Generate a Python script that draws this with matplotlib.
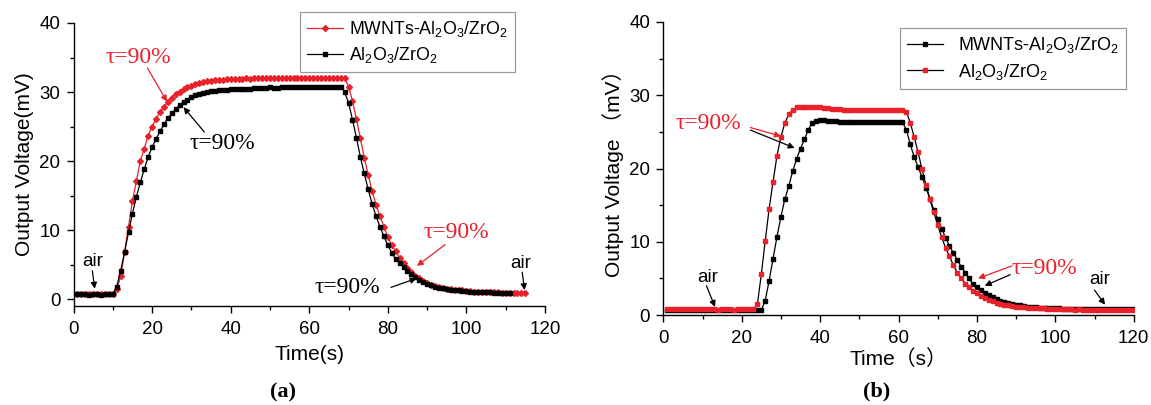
import matplotlib
matplotlib.use('Agg')
import matplotlib.pyplot as plt
from matplotlib.ticker import MultipleLocator

plt.rcParams['font.family'] = ['Liberation Sans', 'Noto Sans CJK SC', 'DejaVu Sans']
plt.rcParams['mathtext.fontset'] = 'custom'
plt.rcParams['mathtext.rm'] = 'Liberation Sans'
plt.rcParams['mathtext.it'] = 'Liberation Sans:italic'
plt.rcParams['mathtext.bf'] = 'Liberation Sans:bold'

# ---- panel (a) data ----
ta_red = list(range(1, 116))
va_red = [0.8, 0.8, 0.75, 0.75, 0.75, 0.7, 0.75, 0.75, 0.7, 0.75,
          1.4, 3.3, 6.8, 10.5, 14.2, 17.1, 20.0, 21.8, 23.7, 25.0,
          26.1, 27.1, 27.9, 28.55, 29.2, 29.7, 30.0, 30.4, 30.7, 30.9,
          31.2, 31.35, 31.5, 31.6, 31.65, 31.7, 31.75, 31.8, 31.85, 31.9,
          31.9, 31.95, 31.95, 32.0, 31.95, 32.1, 32.1, 32.05, 32.1, 32.1,
          32.05, 32.05, 32.1, 32.0, 32.1, 32.1, 32.1, 32.1, 32.1, 32.1,
          32.1, 32.1, 32.1, 32.1, 32.05, 32.1, 32.1, 32.05, 32.1,
          30.8, 28.7, 26.1, 23.3, 20.5, 18.0, 15.65, 13.7, 12.0, 10.5,
          9.0, 7.8, 6.9, 6.0, 5.2, 4.5, 3.9, 3.4, 3.0, 2.6,
          2.3, 2.1, 1.9, 1.75, 1.6, 1.5, 1.4, 1.35, 1.3, 1.25,
          1.2, 1.15, 1.1, 1.1, 1.05, 1.05, 1.0, 1.0, 1.0, 0.95,
          0.95, 0.95, 0.9, 0.9, 0.9, 0.9]

ta_blk = list(range(1, 112))
va_blk = [0.7, 0.7, 0.7, 0.65, 0.7, 0.7, 0.65, 0.7, 0.7, 0.7,
          1.8, 4.1, 6.8, 9.7, 12.4, 14.8, 16.9, 18.8, 20.6, 22.0,
          23.2, 24.3, 25.3, 26.2, 26.9, 27.5, 28.1, 28.55, 28.9, 29.3,
          29.55, 29.75, 29.9, 30.0, 30.1, 30.2, 30.25, 30.3, 30.35, 30.4,
          30.4, 30.45, 30.45, 30.5, 30.5, 30.55, 30.55, 30.6, 30.6, 30.7,
          30.65, 30.65, 30.7, 30.7, 30.75, 30.8, 30.75, 30.75, 30.8, 30.8,
          30.75, 30.8, 30.8, 30.8, 30.8, 30.8, 30.8, 30.8,
          30.0, 28.45, 26.0, 23.4, 20.6, 18.2, 15.9, 13.8, 12.0, 10.5,
          9.1, 7.8, 6.7, 5.8, 5.2, 4.6, 4.1, 3.6, 3.2, 2.8,
          2.5, 2.2, 2.0, 1.8, 1.65, 1.55, 1.45, 1.35, 1.3, 1.25,
          1.2, 1.15, 1.1, 1.1, 1.05, 1.0, 1.0, 1.0, 0.95, 0.95,
          0.95, 0.95, 0.95]

# ---- panel (b) data ----
tb = list(range(1, 121))
vb_mwnt = [0.75, 0.75, 0.75, 0.75, 0.75, 0.75, 0.75, 0.75, 0.75, 0.75,
           0.75, 0.75, 0.75, 0.7, 0.75, 0.75, 0.75, 0.7, 0.75, 0.75,
           0.75, 0.75, 0.75, 0.7, 0.7,
           1.96, 4.7, 7.7, 10.7, 13.4, 15.8, 17.6, 19.6, 21.3, 22.7,
           24.0, 25.3, 26.25, 26.5, 26.6, 26.6, 26.55, 26.5, 26.45, 26.4,
           26.4, 26.4, 26.35, 26.4, 26.35, 26.35, 26.3, 26.35, 26.4, 26.35,
           26.35, 26.35, 26.3, 26.35, 26.3, 26.3,
           25.3, 23.3, 21.6, 20.2, 18.8, 17.4, 15.9, 14.4, 13.1, 11.8,
           10.55, 9.4, 8.5, 7.5, 6.6, 5.8, 5.0, 4.2, 3.8, 3.4,
           3.0, 2.7, 2.4, 2.15, 1.95, 1.75, 1.6, 1.5, 1.4, 1.3,
           1.2, 1.15, 1.1, 1.05, 1.0, 1.0, 0.95, 0.9, 0.9, 0.9,
           0.85, 0.85, 0.85, 0.85, 0.8, 0.8, 0.8, 0.8, 0.8, 0.8,
           0.8, 0.8, 0.8, 0.8, 0.8, 0.8, 0.8, 0.8, 0.8]
vb_ref = [0.8, 0.8, 0.8, 0.8, 0.8, 0.8, 0.8, 0.8, 0.8, 0.8,
          0.8, 0.8, 0.8, 0.75, 0.8, 0.8, 0.8, 0.75, 0.8, 0.8,
          0.8, 0.8, 0.8,
          1.45, 5.55, 10.1, 14.5, 18.2, 21.75, 24.3, 26.2, 27.4, 28.0,
          28.35, 28.4, 28.45, 28.45, 28.45, 28.4, 28.35, 28.3, 28.2, 28.15,
          28.1, 28.1, 28.05, 28.05, 28.05, 28.0, 28.05, 28.0, 28.0, 28.0,
          28.0, 27.95, 28.0, 28.0, 28.0, 28.0, 28.0, 28.0,
          27.75, 26.25, 24.3, 22.2, 19.9, 17.75, 15.8, 14.0, 12.3, 10.6,
          9.2, 8.0, 6.8, 5.8, 5.0, 4.3, 3.8, 3.3, 2.95, 2.6,
          2.3, 2.05, 1.85, 1.65, 1.5, 1.4, 1.3, 1.2, 1.15, 1.1,
          1.05, 1.0, 0.95, 0.95, 0.9, 0.9, 0.85, 0.85, 0.8, 0.8,
          0.8, 0.8, 0.8, 0.75, 0.8, 0.75, 0.75, 0.75, 0.75, 0.75,
          0.75, 0.75, 0.75, 0.75, 0.75, 0.75, 0.75, 0.75, 0.75]

lab_mwnt = 'MWNTs-Al$_2$O$_3$/ZrO$_2$'
lab_ref = 'Al$_2$O$_3$/ZrO$_2$'
red = '#e8212a'

W, H = 1151, 405
fig = plt.figure(figsize=(W / 100, H / 100), dpi=100)
ax1 = fig.add_axes([73.5 / W, 1 - 306 / H, 471.5 / W, 283 / H])
ax2 = fig.add_axes([663.3 / W, 1 - 315 / H, 470.4 / W, 293 / H])


def style(ax, ylo):
    ax.set_xlim(0, 120)
    ax.set_ylim(ylo, 40)
    ax.spines['top'].set_visible(False)
    ax.spines['right'].set_visible(False)
    for s in ('left', 'bottom'):
        ax.spines[s].set_linewidth(1.0)
    ax.xaxis.set_major_locator(MultipleLocator(20))
    ax.xaxis.set_minor_locator(MultipleLocator(10))
    ax.yaxis.set_major_locator(MultipleLocator(10))
    ax.yaxis.set_minor_locator(MultipleLocator(5))
    ax.tick_params(which='major', direction='out', length=5, width=1, labelsize=13.5)
    ax.tick_params(which='minor', direction='out', length=3, width=1)
    ax.tick_params(axis='x', which='major', pad=5.5)
    ax.tick_params(axis='y', which='major', pad=4.5)


def arrow(ax, xy, xytext, color):
    ax.annotate('', xy=xy, xytext=xytext,
                arrowprops=dict(arrowstyle='-|>', color=color, lw=0.9,
                                mutation_scale=9, shrinkA=0, shrinkB=0))


tau_font = dict(family='Liberation Serif', fontsize=17)

# ---- panel (a) ----
style(ax1, -1)
ax1.plot(ta_red, va_red, color=red, lw=0.9, marker='D', ms=3, mfc=red, mec=red,
         label=lab_mwnt)
ax1.plot(ta_blk, va_blk, color='black', lw=0.9, marker='s', ms=2.4, label=lab_ref)
ax1.set_xlabel('Time(s)', fontsize=15, labelpad=5)
ax1.set_ylabel('Output Voltage(mV)', fontsize=15, labelpad=4)

ax1.text(16.5, 35.0, 'τ=90%', color=red, ha='center', va='center', **tau_font)
arrow(ax1, (23.8, 28.6), (18.8, 33.5), red)
ax1.text(38.0, 22.6, 'τ=90%', color='black', ha='center', va='center', **tau_font)
arrow(ax1, (28.0, 27.8), (33.3, 24.2), 'black')
ax1.text(97.4, 9.7, 'τ=90%', color=red, ha='center', va='center', **tau_font)
arrow(ax1, (87.4, 4.8), (94.6, 7.9), red)
ax1.text(69.8, 1.7, 'τ=90%', color='black', ha='center', va='center', **tau_font)
arrow(ax1, (87.3, 3.0), (80.8, 1.7), 'black')
ax1.text(4.9, 5.5, 'air', ha='center', va='center', fontsize=13.5)
arrow(ax1, (5.4, 1.5), (4.8, 4.1), 'black')
ax1.text(113.7, 5.2, 'air', ha='center', va='center', fontsize=13.5)
arrow(ax1, (114.8, 1.3), (114.2, 3.9), 'black')

leg1 = ax1.legend(loc='upper left', bbox_to_anchor=(300 / W, 1 - 12 / H),
                  bbox_transform=fig.transFigure, fontsize=12.8, frameon=True,
                  fancybox=False, edgecolor='#808080', borderaxespad=0,
                  handlelength=2.0, handletextpad=0.35, labelspacing=0.35,
                  borderpad=0.4)
leg1.get_frame().set_linewidth(0.9)

# ---- panel (b) ----
style(ax2, 0)
ax2.plot(tb, vb_mwnt, color='black', lw=0.9, marker='s', ms=2.8, label=lab_mwnt)
ax2.plot(tb, vb_ref, color='black', lw=0.9, marker='s', ms=2.8, mfc=red, mec=red,
         label=lab_ref)
ax2.set_xlabel('Time（s）', fontsize=15, labelpad=2)
ax2.set_ylabel('Output Voltage （mV）', fontsize=15, labelpad=4)

ax2.text(11.6, 26.1, 'τ=90%', color=red, ha='center', va='center', **tau_font)
arrow(ax2, (30.0, 24.4), (22.2, 25.6), red)
arrow(ax2, (33.5, 22.8), (22.2, 25.25), 'black')
ax2.text(97.3, 6.3, 'τ=90%', color=red, ha='center', va='center', **tau_font)
arrow(ax2, (80.3, 5.0), (88.9, 6.7), red)
arrow(ax2, (82.0, 4.0), (88.5, 5.5), 'black')
ax2.text(11.2, 5.1, 'air', ha='center', va='center', fontsize=13.5)
arrow(ax2, (13.2, 1.1), (11.0, 4.0), 'black')
ax2.text(111.2, 4.8, 'air', ha='center', va='center', fontsize=13.5)
arrow(ax2, (112.7, 1.4), (110.0, 3.4), 'black')

leg2 = ax2.legend(loc='upper left', bbox_to_anchor=(900 / W, 1 - 28 / H),
                  bbox_transform=fig.transFigure, fontsize=13, frameon=True,
                  fancybox=False, edgecolor='#808080', borderaxespad=0,
                  handlelength=2.0, labelspacing=0.35, borderpad=0.4)
leg2.get_frame().set_linewidth(0.9)

# panel letters
fig.text(283 / W, 1 - 392 / H, '(a)', family='Liberation Serif', weight='bold',
         fontsize=16, ha='center', va='center')
fig.text(877 / W, 1 - 391 / H, '(b)', family='Liberation Serif', weight='bold',
         fontsize=16, ha='center', va='center')

fig.savefig('out.png', dpi=100)
